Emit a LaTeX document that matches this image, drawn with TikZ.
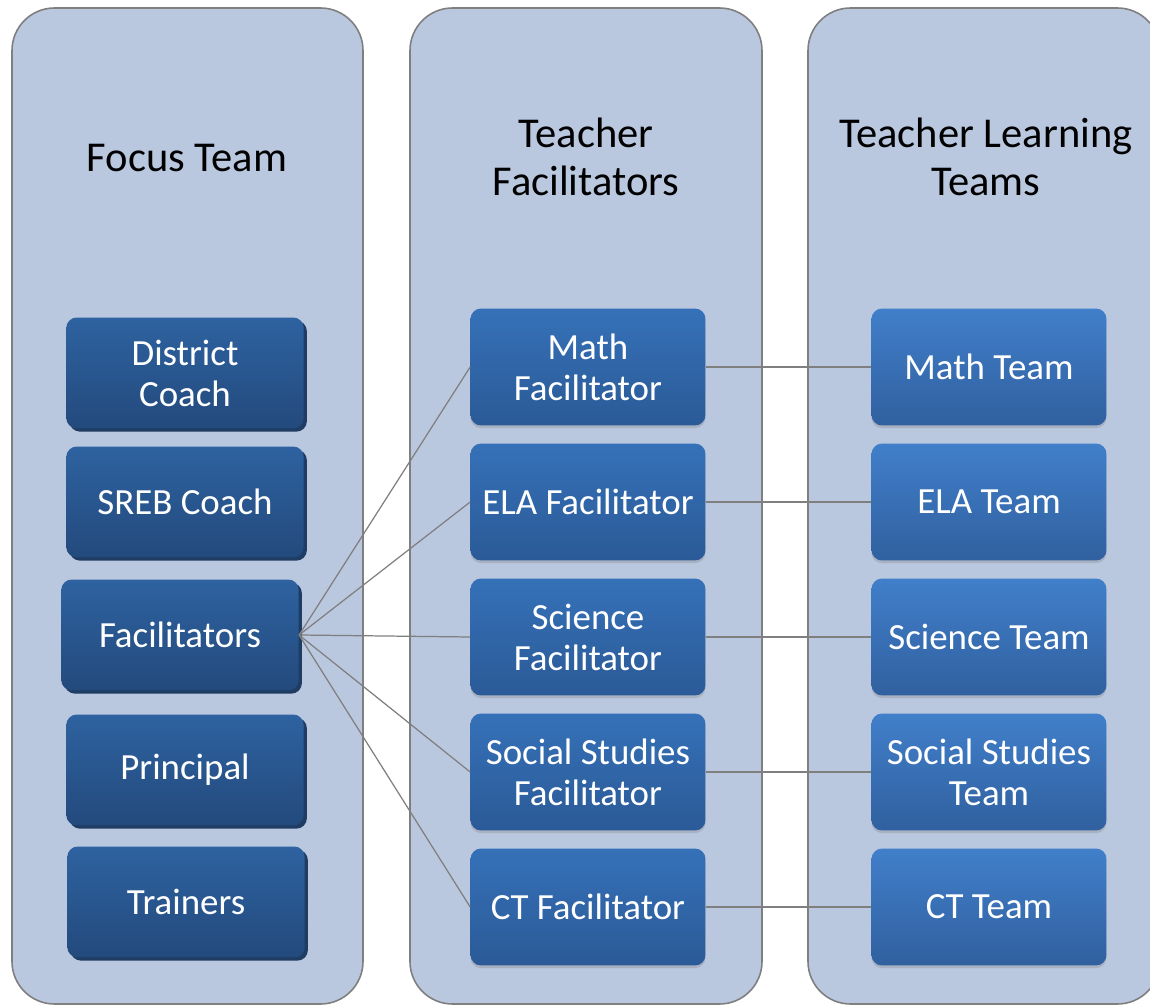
\documentclass[tikz,border=0pt]{standalone}
\usepackage{fontspec}
\setmainfont{Carlito}
\usepackage{xcolor}
\usetikzlibrary{shadows, positioning}

\definecolor{colfill}{HTML}{B9C7DF}
\definecolor{colline}{HTML}{7F7F7F}
\definecolor{darktop}{HTML}{2E62A0}
\definecolor{darkbot}{HTML}{234A7D}
\definecolor{darkedge}{HTML}{1F3C63}
\definecolor{midtop}{HTML}{3571B8}
\definecolor{midbot}{HTML}{2B5A97}
\definecolor{lighttop}{HTML}{417FCA}
\definecolor{lightbot}{HTML}{30609F}

\begin{document}
\begin{tikzpicture}[x=0.02cm, y=-0.02cm,
    column/.style={draw=colline, line width=0.9pt, fill=colfill, rounded corners=0.85cm},
    head/.style={align=center, font=\fontsize{24.2}{27}\selectfont},
    box/.style={rectangle, rounded corners=6pt, align=center, text=white, inner sep=2pt,
        font=\fontsize{21}{23.3}\selectfont, minimum width=4.7cm, minimum height=2.34cm},
    focusbox/.style={box, top color=darktop, bottom color=darkbot,
        minimum width=4.75cm, minimum height=2.22cm,
        drop shadow={fill=darkedge, opacity=1, shadow xshift=1.8pt, shadow yshift=-1.8pt}},
    facilbox/.style={box, top color=midtop, bottom color=midbot,
        drop shadow={opacity=0.3, shadow xshift=0pt, shadow yshift=-1.5pt}},
    teambox/.style={box, top color=lighttop, bottom color=lightbot,
        drop shadow={opacity=0.3, shadow xshift=0pt, shadow yshift=-1.5pt}},
    link/.style={draw=colline, line width=0.7pt}]
    \useasboundingbox (0,0) rectangle (1150,1006);

    % the three columns
    \draw[column] (12,8) rectangle (363,1004);
    \draw[column] (410,8) rectangle (762,1004);
    \draw[column] (808,8) rectangle (1160,1004);

    \node[head] (h-focus) at (187,158) {Focus Team};
    \node[head] (h-facil) at (586,157) {Teacher\\Facilitators};
    \node[head] (h-teams) at (986,157) {Teacher Learning\\Teams};

    % focus team
    \node[focusbox] (district)  at (185,373) {District\\Coach};
    \node[focusbox] (sreb)      at (185,502) {SREB Coach};
    \node[focusbox] (facil)     at (180,635) {Facilitators};
    \node[focusbox] (principal) at (185,770) {Principal};
    \node[focusbox] (trainers)  at (186,902) {Trainers};

    % facilitators and their teams
    \foreach \n/\y/\f/\t in {math/367/{Math\\Facilitator}/{Math Team},
                             ela/502/{ELA Facilitator}/{ELA Team},
                             sci/637/{Science\\Facilitator}/{Science Team},
                             soc/772/{Social Studies\\Facilitator}/{Social Studies\\Team},
                             ct/907/{CT Facilitator}/{CT Team}} {
        \node[facilbox] (F-\n) at (588,\y) {\f};
        \node[teambox]  (T-\n) at (989,\y) {\t};
        \draw[link] (facil.east) -- (F-\n.west);
        \draw[link] (F-\n.east) -- (T-\n.west);
    }
\end{tikzpicture}
\end{document}
